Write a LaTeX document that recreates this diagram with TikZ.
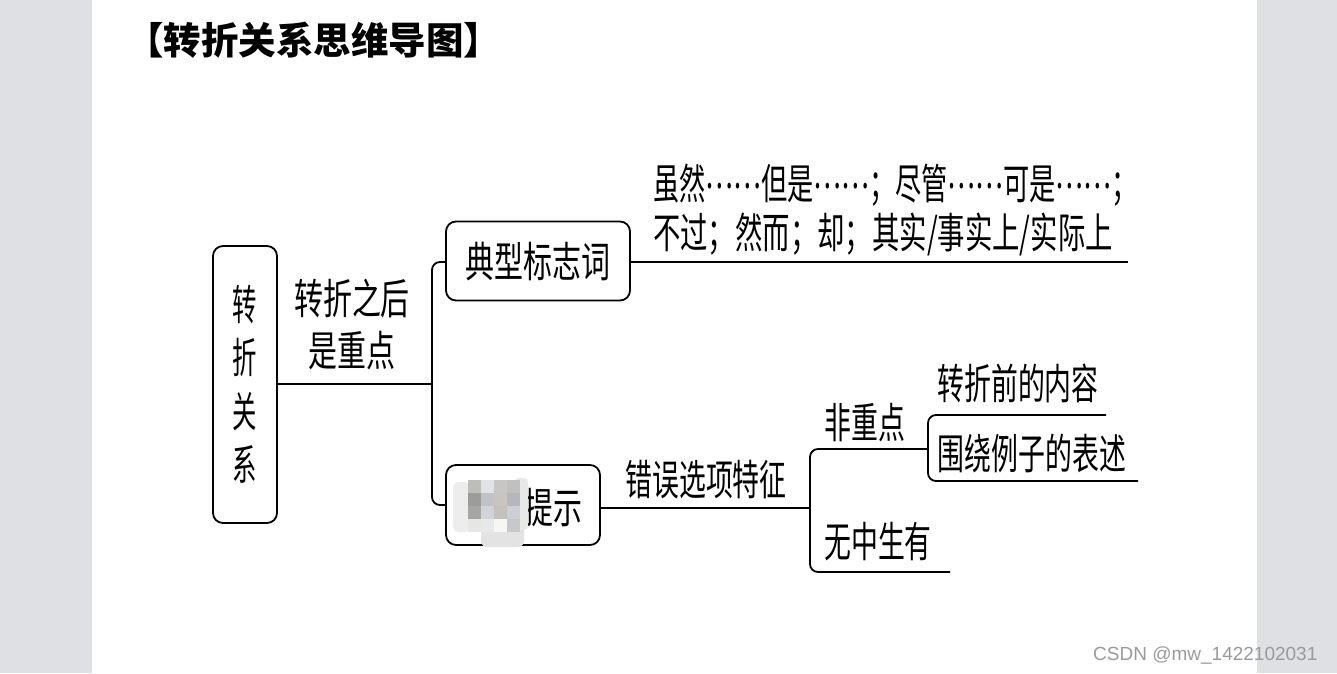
\documentclass[tikz,border=0pt]{standalone}
\usepackage{graphicx}
\usepackage{fontspec}
\newfontfamily\cjkw{Noto Sans CJK SC}[FakeStretch=0.69]
\newfontfamily\cjkn{Noto Sans CJK SC}[FakeStretch=0.64]
\newfontfamily\cjkr{Noto Sans CJK SC}[FakeStretch=0.58]
\newfontfamily\cjktitle{Noto Sans CJK SC}
\newfontfamily\wmfont{Liberation Sans}
\definecolor{pagegrey}{HTML}{DFE0E4}
\definecolor{wmgrey}{HTML}{9A9A9A}
\newcommand\mzcell[3]{\definecolor{mzc}{HTML}{#3}\fill[mzc] (#1,#2) rectangle ++(13.2,13.2);}
\newcommand\middots{\raisebox{0.26em}{……}}
\tikzset{
  lnk/.style={line width=1.8pt, black, rounded corners=8pt},
  rbox/.style={draw, line width=1.8pt, rounded corners=10pt, inner sep=0pt, fill=white},
  lbl/.style={inner sep=0pt, font=\cjkn\fontsize{42}{48}\selectfont},
  big/.style={inner sep=0pt, font=\cjkw\fontsize{42}{52}\selectfont},
}
\begin{document}
\begin{tikzpicture}[x=1pt,y=-1pt]
\useasboundingbox (0,0) rectangle (1337,673);
\fill[pagegrey] (0,0) rectangle (1337,673);
\fill[white] (92,0) rectangle (1257,673);
% title
\node[inner sep=0pt, anchor=west, font=\cjktitle\bfseries\fontsize{37.5}{40}\selectfont] (title) at (126,40) {【转折关系思维导图】};
% root
\node[rbox, minimum width=64pt, minimum height=277pt, align=center,
      font=\cjkr\fontsize{42}{53.5}\selectfont] (root) at (245,384.5) {转\\折\\关\\系};
% label after root
\node[big, align=center] (keypoint) at (352,324) {转折之后\\是重点};
% box 1
\node[rbox, minimum width=184pt, minimum height=79pt, font=\cjkw\fontsize{42}{48}\selectfont] (words) at (538,261) {典型标志词};
% box 2
\node[rbox, minimum width=154pt, minimum height=80pt] (tips) at (523,505) {};
\node[big, anchor=west] (tipstext) at (524,508) {提示};
% blur mosaic
\fill[white!93!black, rounded corners=6pt] (453,482) rectangle (470,532);
\fill[white!89!black, rounded corners=6pt] (481,525) rectangle (524,547);
\fill[white!91!black, rounded corners=4pt] (515,478) rectangle (528,530);
\mzcell{468}{480}{BDBDB9}\mzcell{481}{480}{E0E2E6}\mzcell{494}{480}{C8C6C2}\mzcell{507}{480}{C0C0C0}
\mzcell{468}{493}{9C9C9C}\mzcell{481}{493}{C0C2C6}\mzcell{494}{493}{C8C4C0}\mzcell{507}{493}{B4B8BC}
\mzcell{468}{506}{A8A6A2}\mzcell{481}{506}{D0D4D8}\mzcell{494}{506}{C4C0BC}\mzcell{507}{506}{CCD0D4}
\mzcell{468}{519}{E6E6E6}\mzcell{481}{519}{E8E8E8}\mzcell{494}{519}{F6F6F2}\mzcell{507}{519}{C8C8CA}
% branch from root
\coordinate (j1) at (432,384);
\draw[lnk] (root.east |- j1) -- (j1);
\draw[lnk] (words.west |- 0,262) -- (432,262) -- (432,505) -- (tips.west);
% line under typical words
\coordinate (e1) at (1128,262);
\draw[lnk] (words.east |- e1) -- (e1);
\node[big, anchor=west] (line1) at (653,185) {\scalebox{0.905}[1]{虽然\middots 但是\middots；尽管\middots 可是\middots；}};
\node[big, anchor=west] (line2) at (653,234) {\scalebox{0.945}[1]{不过；然而；却；其实/事实上/实际上}};
% wrong option features
\coordinate (j2) at (810,508);
\draw[lnk] (tips.east |- j2) -- (j2);
\node[lbl] (feat) at (706,480) {错误选项特征};
\coordinate (j3) at (928,449);
\coordinate (e3) at (950,572);
\draw[lnk] (j3) -- (810,449) -- (810,572) -- (e3);
\node[lbl] (nonkey) at (865,423) {非重点};
\node[lbl] (fabricated) at (878,542) {无中生有};
\coordinate (e4) at (1106,415);
\coordinate (e5) at (1138,481);
\draw[lnk] (e4) -- (928,415) -- (928,481) -- (e5);
\node[lbl] (before) at (1018,383) {转折前的内容};
\node[lbl] (example) at (1032,453) {围绕例子的表述};
% watermark
\node[inner sep=0pt, anchor=west, text=wmgrey, font=\wmfont\fontsize{19}{20}\selectfont] (wm) at (1093,655) {CSDN @mw\_1422102031};
\end{tikzpicture}
\end{document}
